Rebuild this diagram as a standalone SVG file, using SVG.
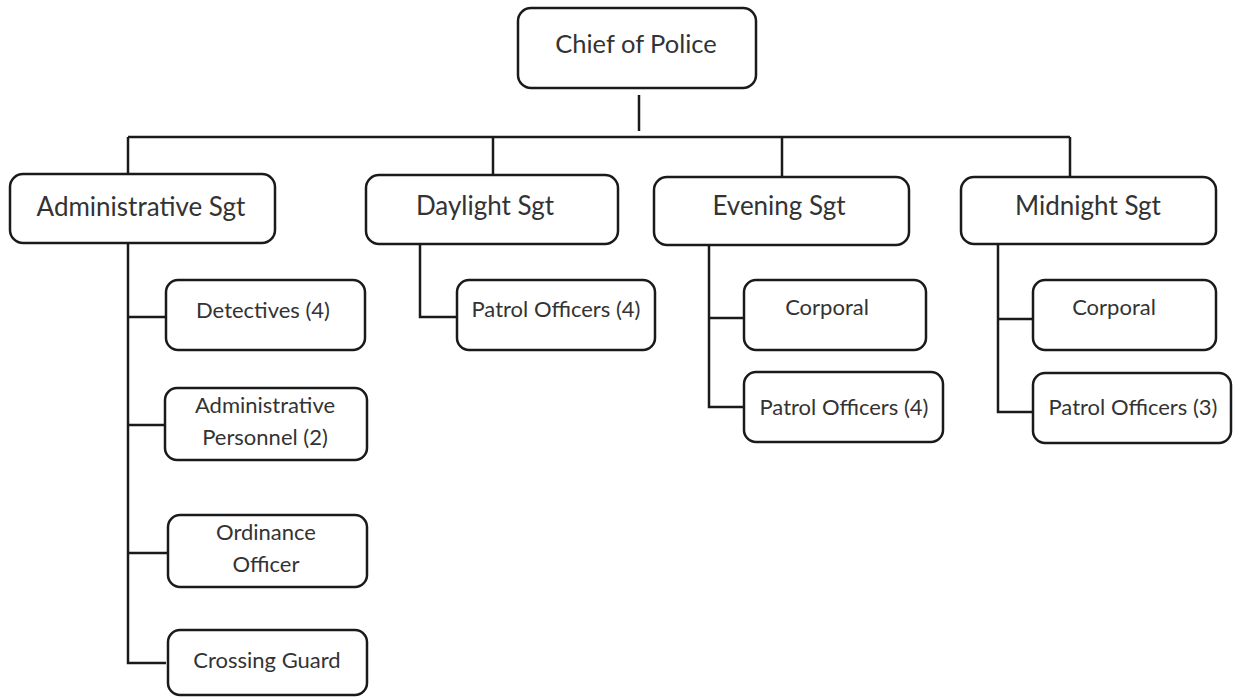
<svg xmlns="http://www.w3.org/2000/svg" width="1235" height="700" viewBox="0 0 1235 700">
<style>
.box{fill:#fff;stroke:#1a1a1a;stroke-width:2.5}
.ln{fill:none;stroke:#1a1a1a;stroke-width:2.5}
text{font-family:Lato,"Liberation Sans",sans-serif;fill:#333;text-anchor:middle}
.t1{font-size:25.5px}
.t2{font-size:26px}
.t3{font-size:22px}
</style>
<rect width="1235" height="700" fill="#fff"/>
<g id="connectors">
<path class="ln" d="M639 95V131M128 137H1070M128 137V175M493 137V175M782 137V177M1070 137V177"/>
<path class="ln" d="M128 243V663H166M128 317H166M128 425H165M128 553H168"/>
<path class="ln" d="M420 245V317H457"/>
<path class="ln" d="M709 245V407H744M709 318H744"/>
<path class="ln" d="M998 244V412H1033M998 319H1033"/>
</g>
<g id="chief"><rect class="box" x="518" y="8" width="238" height="80" rx="13"/><text class="t1" x="636" y="53">Chief of Police</text></g>
<g id="admin-sgt"><rect class="box" x="10" y="174" width="265" height="69" rx="13"/><text class="t2" x="141" y="216">Administrative Sgt</text></g>
<g id="daylight-sgt"><rect class="box" x="366" y="175" width="252" height="69" rx="13"/><text class="t2" x="485" y="215">Daylight Sgt</text></g>
<g id="evening-sgt"><rect class="box" x="654" y="177" width="255" height="68" rx="13"/><text class="t2" x="779" y="215">Evening Sgt</text></g>
<g id="midnight-sgt"><rect class="box" x="961" y="177" width="255" height="67" rx="13"/><text class="t2" x="1088" y="215">Midnight Sgt</text></g>
<g id="detectives"><rect class="box" x="166" y="280" width="199" height="70" rx="12"/><text class="t3" x="263" y="318">Detectives (4)</text></g>
<g id="admin-personnel"><rect class="box" x="165" y="388" width="202" height="72" rx="12"/><text class="t3" x="265" y="413">Administrative</text><text class="t3" x="265" y="445">Personnel (2)</text></g>
<g id="ordinance-officer"><rect class="box" x="168" y="515" width="199" height="72" rx="12"/><text class="t3" x="266" y="540">Ordinance</text><text class="t3" x="266" y="572">Officer</text></g>
<g id="crossing-guard"><rect class="box" x="168" y="630" width="199" height="65" rx="12"/><text class="t3" x="267" y="668">Crossing Guard</text></g>
<g id="daylight-patrol"><rect class="box" x="457" y="280" width="198" height="70" rx="12"/><text class="t3" x="556" y="317">Patrol Officers (4)</text></g>
<g id="evening-corporal"><rect class="box" x="744" y="280" width="182" height="70" rx="12"/><text class="t3" x="827" y="315">Corporal</text></g>
<g id="evening-patrol"><rect class="box" x="744" y="372" width="199" height="70" rx="12"/><text class="t3" x="844" y="415">Patrol Officers (4)</text></g>
<g id="midnight-corporal"><rect class="box" x="1033" y="280" width="183" height="70" rx="12"/><text class="t3" x="1114" y="315">Corporal</text></g>
<g id="midnight-patrol"><rect class="box" x="1033" y="373" width="198" height="70" rx="12"/><text class="t3" x="1133" y="415">Patrol Officers (3)</text></g>
</svg>
